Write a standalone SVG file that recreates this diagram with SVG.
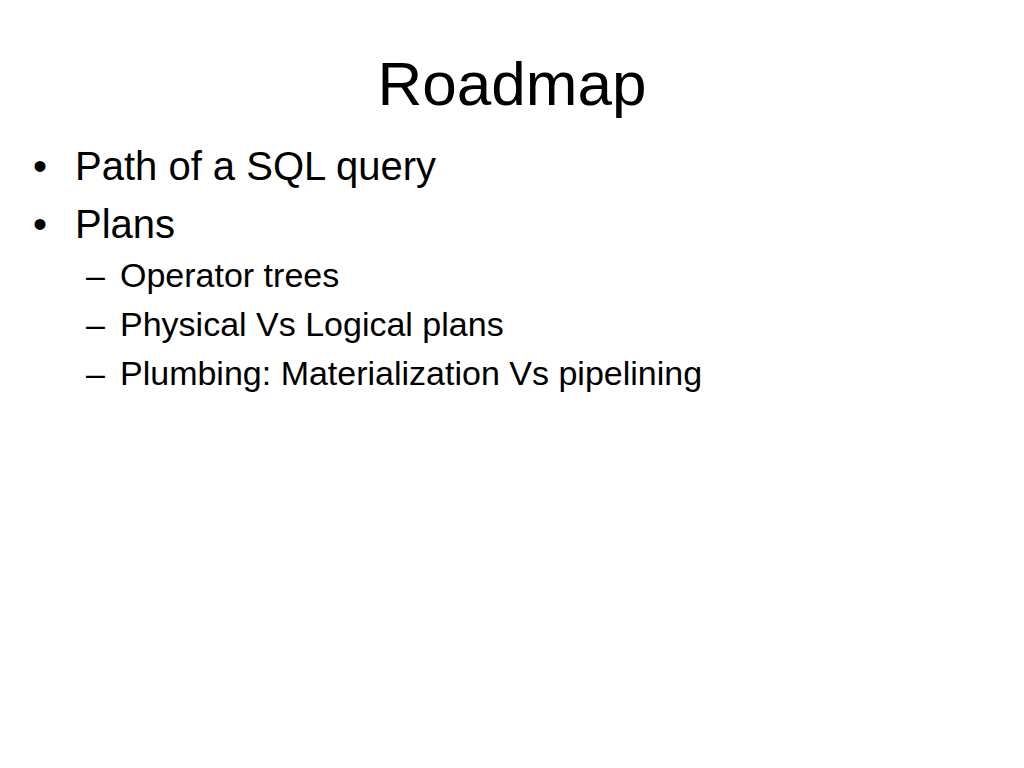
<svg xmlns="http://www.w3.org/2000/svg" width="1024" height="768" viewBox="0 0 1024 768">
<style>
text { font-family: "Liberation Sans", Arial, sans-serif; fill: #000; }
.title { font-size: 62px; text-anchor: middle; }
.l1 { font-size: 40px; }
.l2 { font-size: 34px; }
</style>
<rect width="1024" height="768" fill="#ffffff"/>
<g id="title"><text class="title" x="512" y="105">Roadmap</text></g>
<g id="bullets">
<text class="l1" x="33" y="180">•</text>
<text class="l1" x="75" y="180">Path of a SQL query</text>
<text class="l1" x="33" y="238">•</text>
<text class="l1" x="75" y="238">Plans</text>
<text class="l2" x="86" y="287">–</text>
<text class="l2" x="120" y="287">Operator trees</text>
<text class="l2" x="86" y="336">–</text>
<text class="l2" x="120" y="336">Physical Vs Logical plans</text>
<text class="l2" x="86" y="385">–</text>
<text class="l2" x="120" y="385">Plumbing: Materialization Vs pipelining</text>
</g>
</svg>
